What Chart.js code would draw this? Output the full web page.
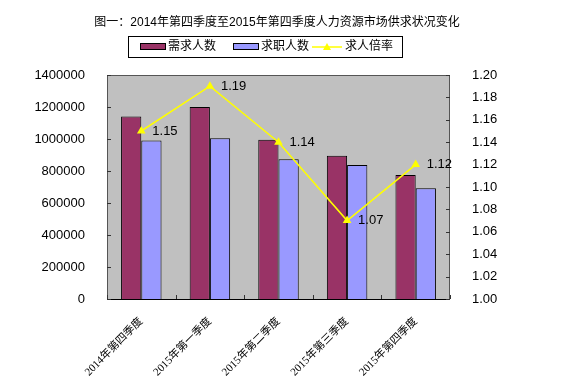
<title>人力资源市场供求状况变化</title>
<meta charset="UTF-8">
<style>
body { margin:0; background:#fff; }
</style>
<body>
<canvas id="chart1" width="576" height="392"></canvas>
<script src="https://cdn.jsdelivr.net/npm/chart.js@4/dist/chart.umd.min.js"></script>
<script>
// data
var quarters = ["2014年第四季度", "2015年第一季度", "2015年第二季度", "2015年第三季度", "2015年第四季度"];
var demand = [1140000, 1200000, 995000, 895000, 775000];   // 需求人数
var seekers = [990000, 1005000, 873000, 838000, 692000];   // 求职人数
var ratio = [1.15, 1.19, 1.14, 1.07, 1.12];                // 求人倍率

var titleText = "图一：2014年第四季度至2015年第四季度人力资源市场供求状况变化";
var sans = "'Liberation Sans', 'Noto Sans CJK SC', sans-serif";

var deco = {
  id: "deco",
  beforeDraw: function(c) {
    var a = c.chartArea, x = c.ctx;
    x.save();
    x.fillStyle = "#c0c0c0";
    x.fillRect(a.left, a.top, a.right - a.left, a.bottom - a.top);
    x.restore();
  },
  afterDatasetsDraw: function(c) {
    var a = c.chartArea, x = c.ctx;
    x.save();
    // frame
    x.strokeStyle = "#555";
    x.lineWidth = 1;
    x.strokeRect(a.left + 0.5, a.top + 0.5, a.right - a.left - 1, a.bottom - a.top);
    x.strokeStyle = "#000";
    x.beginPath();
    x.moveTo(a.left, a.bottom + 0.5); x.lineTo(a.right, a.bottom + 0.5);
    x.stroke();
    // inward tick marks
    var yl = c.scales.y, yr = c.scales.y2, xs = c.scales.x;
    x.strokeStyle = "#333";
    x.beginPath();
    yl.ticks.forEach(function(t, i) {
      var p = Math.round(yl.getPixelForTick(i)) + 0.5;
      x.moveTo(a.left, p); x.lineTo(a.left + 4, p);
    });
    yr.ticks.forEach(function(t, i) {
      var p = Math.round(yr.getPixelForTick(i)) + 0.5;
      x.moveTo(a.right - 4, p); x.lineTo(a.right, p);
    });
    for (var i = 0; i <= quarters.length; i++) {
      var p = Math.round(xs.getPixelForValue(i - 0.5)) + 0.5;
      x.moveTo(p, a.bottom); x.lineTo(p, a.bottom - 4);
    }
    x.stroke();
    // value labels on the ratio line
    var meta = c.getDatasetMeta(2);
    x.fillStyle = "#000";
    x.font = "13px " + sans;
    x.textAlign = "left";
    x.textBaseline = "middle";
    meta.data.forEach(function(pt, i) {
      x.fillText(ratio[i].toFixed(2), pt.x + 11, pt.y);
    });
    x.restore();
  },
  afterDraw: function(c) {
    var x = c.ctx;
    x.save();
    x.fillStyle = "#000";
    x.font = "12px " + sans;
    x.textAlign = "center";
    x.textBaseline = "middle";
    x.fillText(titleText, 277, 23);
    // legend box
    x.strokeStyle = "#000";
    x.lineWidth = 1;
    x.strokeRect(128.5, 36.5, 274, 21);
    x.font = "12px " + sans;
    x.textAlign = "left";
    var items = [
      { label: c.data.datasets[0].label, color: "#993366", bx: 140, tx: 168 },
      { label: c.data.datasets[1].label, color: "#9999ff", bx: 233, tx: 261 }
    ];
    items.forEach(function(it) {
      x.fillStyle = it.color;
      x.fillRect(it.bx, 44, 25, 5);
      x.strokeStyle = "#000";
      x.strokeRect(it.bx + 0.5, 43.5, 25, 6);
      x.fillStyle = "#000";
      x.fillText(it.label, it.tx, 47);
    });
    x.strokeStyle = "#ffff00";
    x.lineWidth = 1.5;
    x.beginPath(); x.moveTo(312, 47); x.lineTo(342, 47); x.stroke();
    x.fillStyle = "#ffff00";
    x.beginPath(); x.moveTo(327, 43); x.lineTo(331, 50); x.lineTo(323, 50); x.closePath(); x.fill();
    x.fillStyle = "#000";
    x.fillText(c.data.datasets[2].label, 345, 47);
    x.restore();
  }
};

new Chart("chart1", {
  type: "bar",
  data: {
    labels: quarters,
    datasets: [{
      label: "需求人数",
      data: demand,
      backgroundColor: "#993366",
      borderColor: "#000",
      borderWidth: 1,
      yAxisID: "y",
      order: 2
    }, {
      label: "求职人数",
      data: seekers,
      backgroundColor: "#9999ff",
      borderColor: "#000",
      borderWidth: 1,
      yAxisID: "y",
      order: 2
    }, {
      type: "line",
      label: "求人倍率",
      data: ratio,
      borderColor: "#ffff00",
      backgroundColor: "#ffff00",
      borderWidth: 1.5,
      pointStyle: "triangle",
      pointRadius: 5,
      pointBorderWidth: 0,
      yAxisID: "y2",
      order: 1
    }]
  },
  plugins: [deco],
  options: {
    responsive: false,
    animation: false,
    layout: { padding: { top: 75, left: 0, right: 0, bottom: 0 } },
    datasets: { bar: { barPercentage: 1.0, categoryPercentage: 0.59 } },
    plugins: { legend: { display: false }, tooltip: { enabled: false } },
    scales: {
      x: {
        offset: true,
        grid: { display: false },
        border: { display: false },
        ticks: {
          color: "#000",
          font: { size: 11, family: "'Liberation Serif', 'Noto Sans CJK SC', serif" },
          minRotation: 45, maxRotation: 45, padding: 8
        },
        afterFit: function(s) { s.height = 93; }
      },
      y: {
        position: "left",
        min: 0, max: 1400000,
        grid: { display: false },
        border: { display: false },
        ticks: {
          stepSize: 200000, color: "#000", padding: 14, font: { size: 13, family: sans },
          callback: function(v) { return String(v); }
        },
        afterFit: function(s) { s.width = 107; }
      },
      y2: {
        position: "right",
        min: 1.0, max: 1.2,
        grid: { display: false },
        border: { display: false },
        ticks: {
          stepSize: 0.02, color: "#000", padding: 14, font: { size: 13, family: sans },
          callback: function(v) { return v.toFixed(2); }
        },
        afterFit: function(s) { s.width = 126; }
      }
    }
  }
});
</script>
</body>
